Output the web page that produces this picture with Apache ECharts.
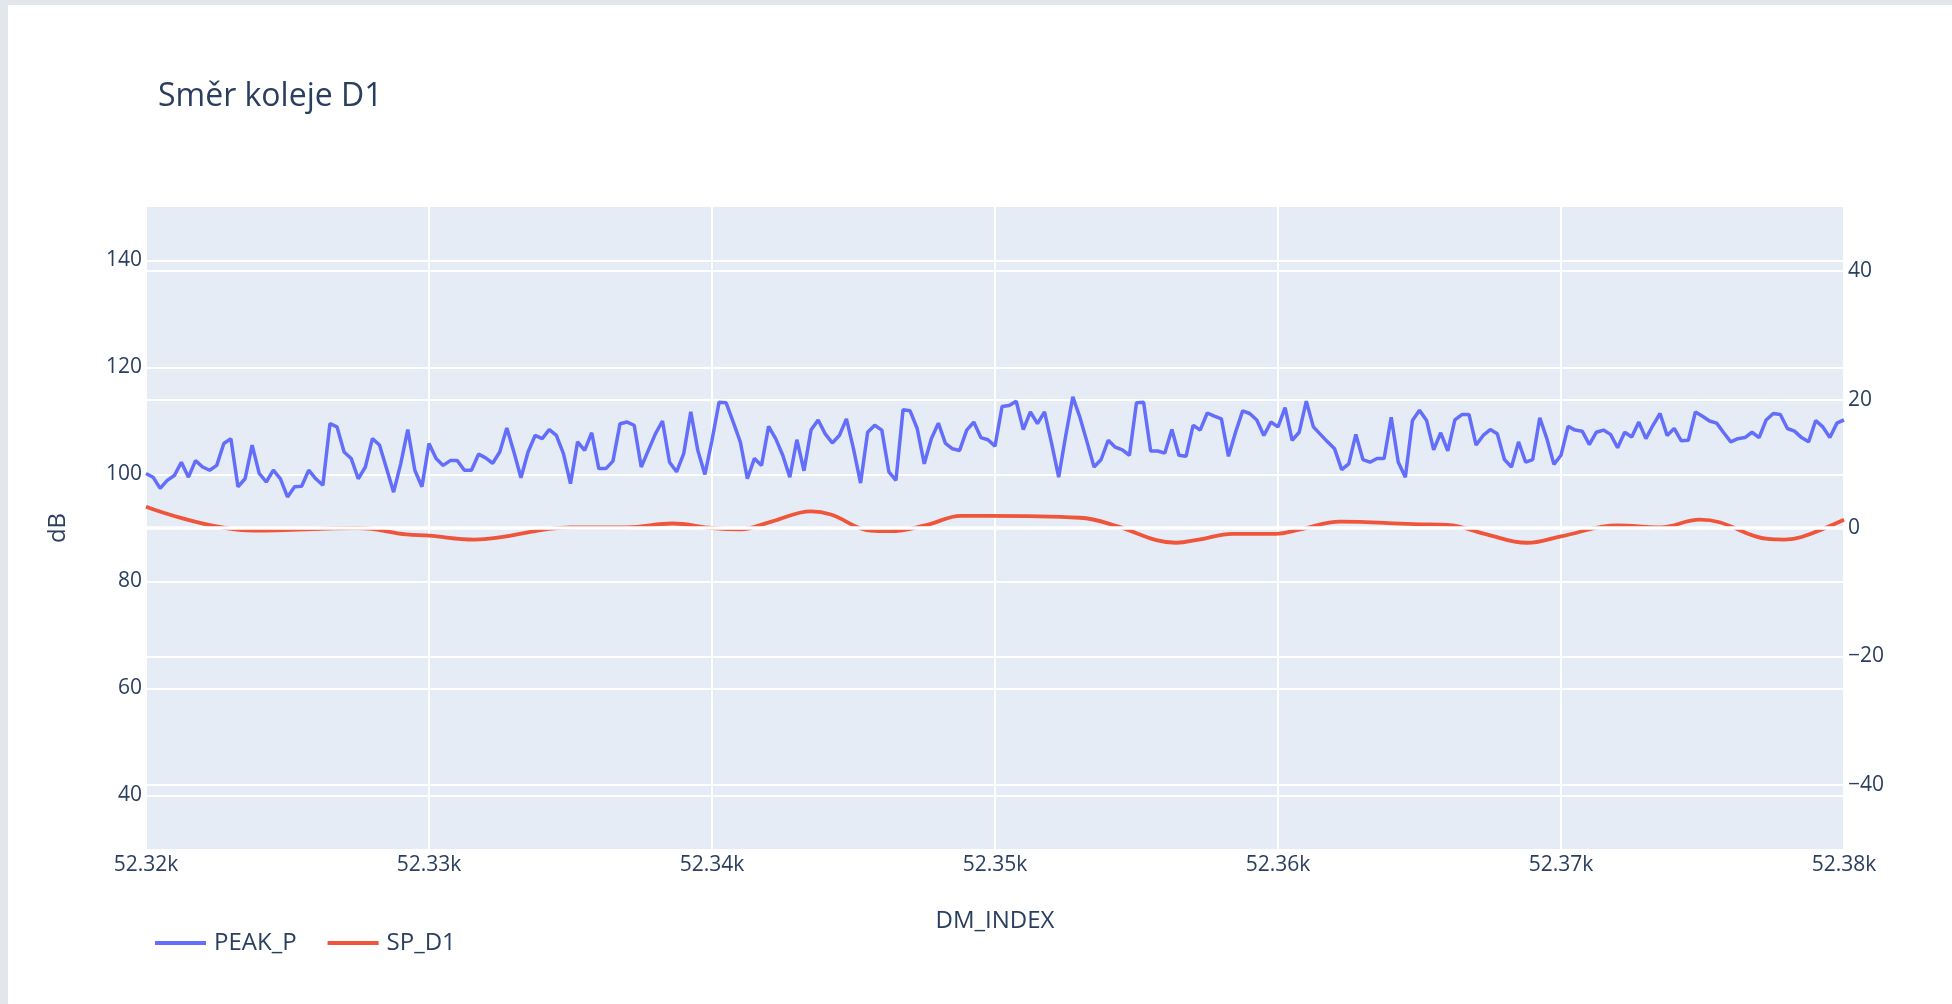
<!DOCTYPE html>
<html>
<head>
<meta charset="utf-8">
<script src="https://cdn.jsdelivr.net/npm/echarts@6/dist/echarts.min.js"></script>
<style>
  html, body { margin: 0; padding: 0; background: #e3e6ea; }
  #chart { position: absolute; left: 8px; top: 5px; width: 1944px; height: 999px; background: #fff; }
</style>
</head>
<body>
<div id="chart"></div>
<script>
(function() {
  const chart = echarts.init(document.getElementById('chart'));

  const titleText = 'Směr koleje D1';
  const seriesNames = ['PEAK_P', 'SP_D1'];
  const xTicks = [52320, 52330, 52340, 52350, 52360, 52370, 52380];
  const leftTicks = [40, 60, 80, 100, 120, 140];
  const rightTicks = [-40, -20, 0, 20, 40];

  // PEAK_P sampled every 0.25 of DM_INDEX, from 52320
  const dmStart = 52320;
  const dmStep = 0.25;
  const peakP = [
    100.2, 99.5, 97.4, 98.9, 99.8, 102.3, 99.5, 102.6, 101.4, 100.8,
    101.7, 105.8, 106.7, 97.7, 99.2, 105.5, 100.2, 98.6, 100.8, 99.2,
    95.8, 97.7, 97.8, 100.8, 99.2, 98.0, 109.5, 108.9, 104.2, 103.0,
    99.2, 101.4, 106.7, 105.5, 101.1, 96.7, 102.0, 108.4, 100.8, 97.7,
    105.8, 103.0, 101.7, 102.6, 102.6, 100.8, 100.8, 103.8, 103.1, 102.1,
    104.2, 108.7, 104.2, 99.4, 104.2, 107.3, 106.7, 108.4, 107.3, 103.9,
    98.3,
    106.1, 104.5, 107.8, 101.1, 101.1, 102.5, 109.5, 109.8, 109.2, 101.4,
    104.5, 107.6, 110.0, 102.3, 100.5, 103.9, 111.7, 104.5, 100.0, 106.4,
    113.5, 113.4, 109.8, 106.1, 99.2, 103.0, 101.7, 109.0, 106.7, 103.6,
    99.5, 106.5, 100.7, 108.3, 110.2, 107.6, 105.9, 107.3, 110.4, 104.8,
    98.4, 107.9, 109.2, 108.3, 100.5, 98.9, 112.1, 111.9, 108.6, 102.0,
    106.7, 109.6, 105.8, 104.8, 104.5, 108.3, 109.8, 106.9, 106.5,
    105.3, 112.7, 112.9, 113.7, 108.4, 111.7, 109.5, 111.7, 105.8, 99.5,
    107.3, 114.5, 110.7, 106.1, 101.4, 102.8, 106.4, 105.1, 104.6, 103.6,
    113.4, 113.5, 104.4, 104.4, 104.0, 108.4, 103.6, 103.4, 109.2, 108.3,
    111.5, 110.9, 110.4, 103.4, 107.9, 111.9, 111.4, 110.2, 107.3, 109.8,
    108.9, 112.5, 106.4, 107.9, 113.7, 108.9, 107.5, 106.1, 104.8, 100.9,
    102.0, 107.5, 102.8, 102.3, 103.0, 103.0, 110.7, 102.3, 99.5,
    110.1, 112.0, 110.1, 104.6, 107.8, 104.4, 110.2, 111.2, 111.2, 105.5,
    107.3, 108.4, 107.6, 102.8, 101.4, 106.1, 102.3, 102.8, 110.6, 106.7,
    101.9, 103.6, 109.0, 108.3, 108.1, 105.6, 107.9, 108.3, 107.5, 105.0,
    107.9, 107.0, 109.8, 106.7, 109.2, 111.4, 107.3, 108.6, 106.3, 106.4,
    111.7, 110.9, 110.0, 109.6, 107.8, 106.1, 106.7, 106.9, 107.9, 106.9,
    110.2, 111.4, 111.2, 108.6, 108.1, 106.9, 106.1, 110.1, 108.9, 106.9,
    109.6, 110.2
  ];

  // SP_D1 (right axis)
  const spX = [52320, 52323.8, 52327.5, 52329.2, 52330, 52331.6, 52335, 52337, 52338.6, 52340,
    52341, 52342.1, 52343.5, 52344.2, 52345.6, 52346.3, 52347.6, 52348.8, 52349.8, 52353,
    52354.3, 52355.7, 52356.4, 52357.2, 52358.4, 52359.9, 52360.8, 52362.2, 52364.8, 52366,
    52367.3, 52368.8, 52370, 52372, 52373.5, 52374.9, 52375.6, 52377.3, 52377.9, 52378.5, 52380];
  const spY = [3.3, -0.4, 0, -1.0, -1.2, -1.8, 0.1, 0.1, 0.7, 0,
    -0.2, 1.0, 2.6, 2.1, -0.4, -0.5, 0.5, 1.9, 1.9, 1.6,
    0.3, -1.9, -2.3, -1.8, -0.9, -0.9, -0.2, 1.0, 0.6, 0.5,
    -0.9, -2.3, -1.3, 0.4, 0.1, 1.3, 0.9, -1.7, -1.8, -1.4, 1.3];

  const textColor = '#2a3f5f';
  const font = '"Open Sans", Verdana, Arial, sans-serif';

  const option = {
    animation: false,
    title: {
      text: titleText,
      left: 150,
      top: 76,
      padding: 0,
      textStyle: { fontFamily: font, fontSize: 32, fontWeight: 'normal', color: textColor, lineHeight: 32 }
    },
    legend: {
      data: seriesNames,
      icon: 'rect',
      left: 142,
      top: 921,
      itemWidth: 51,
      itemHeight: 4,
      itemGap: 31,
      textStyle: { fontFamily: font, fontSize: 24, color: textColor, padding: [0, 0, 0, 3] }
    },
    grid: {
      left: 138,
      top: 202,
      width: 1698,
      height: 642,
      show: true,
      backgroundColor: '#E5ECF6',
      borderWidth: 0
    },
    xAxis: {
      type: 'value',
      min: xTicks[0],
      max: xTicks[xTicks.length - 1],
      interval: 10,
      name: 'DM_INDEX',
      nameLocation: 'middle',
      nameGap: 60,
      nameTextStyle: { fontFamily: font, fontSize: 24, color: textColor },
      axisLine: { show: false },
      axisTick: { show: false },
      axisLabel: {
        margin: 6,
        fontFamily: font,
        fontSize: 21,
        color: textColor,
        formatter: v => (v / 1000).toFixed(2) + 'k'
      },
      splitLine: { lineStyle: { color: '#fff', width: 2 } }
    },
    yAxis: [
      {
        type: 'value',
        min: 30,
        max: 150,
        name: 'dB',
        nameLocation: 'middle',
        nameGap: 76,
        nameTextStyle: { fontFamily: font, fontSize: 24, color: textColor },
        axisLine: { show: false },
        axisTick: { show: false, customValues: leftTicks },
        axisLabel: { customValues: leftTicks, margin: 4, fontFamily: font, fontSize: 21, color: textColor },
        splitLine: { lineStyle: { color: '#fff', width: 2 } }
      },
      {
        type: 'value',
        min: -50,
        max: 50,
        position: 'right',
        axisLine: { show: false },
        axisTick: { show: false, customValues: rightTicks },
        axisLabel: {
          customValues: rightTicks,
          margin: 4,
          fontFamily: font,
          fontSize: 21,
          color: textColor,
          formatter: v => (v < 0 ? '\u2212' + Math.abs(v) : String(v))
        },
        splitLine: { lineStyle: { color: '#fff', width: 2 } }
      }
    ],
    series: [
      {
        name: seriesNames[0],
        type: 'line',
        yAxisIndex: 0,
        symbol: 'none',
        z: 2,
        lineStyle: { color: '#636efa', width: 3.5 },
        itemStyle: { color: '#636efa' },
        data: peakP.map((v, i) => [dmStart + i * dmStep, v]),
        markLine: {
          silent: true,
          symbol: 'none',
          label: { show: false },
          lineStyle: { color: '#fff', width: 3.5, type: 'solid' },
          data: [{ yAxis: 90 }]
        }
      },
      {
        name: seriesNames[1],
        type: 'line',
        yAxisIndex: 1,
        symbol: 'none',
        smooth: 0.4,
        z: 3,
        lineStyle: { color: '#EF553B', width: 3.8 },
        itemStyle: { color: '#EF553B' },
        data: spX.map((x, i) => [x, spY[i]])
      }
    ]
  };

  chart.setOption(option);
}());
</script>
</body>
</html>
